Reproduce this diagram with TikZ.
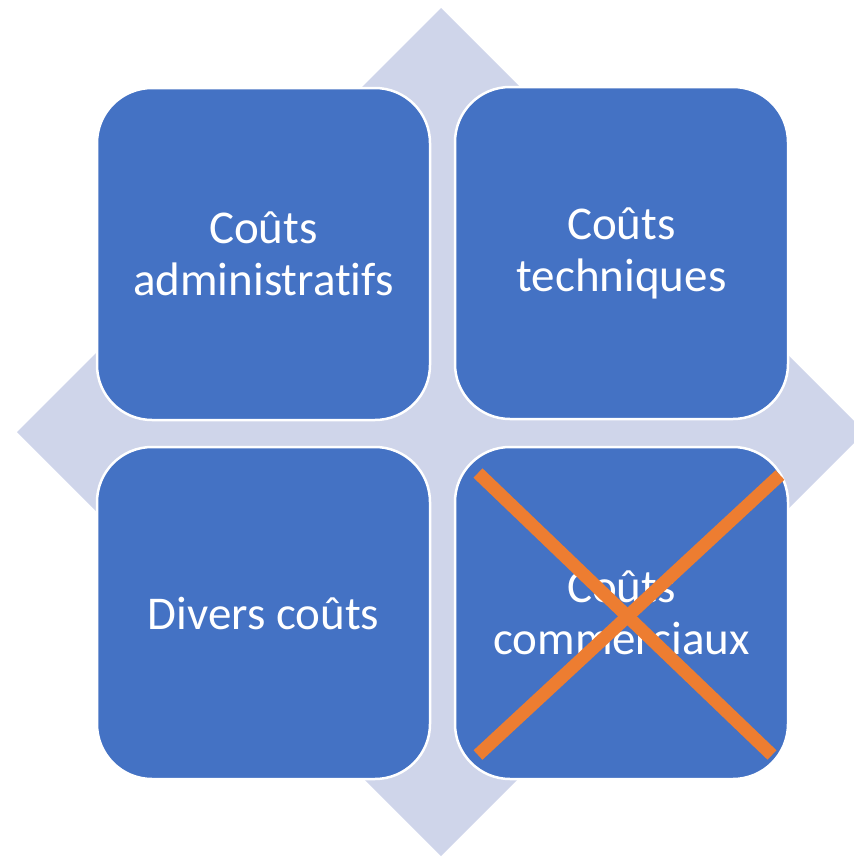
\documentclass[tikz,border=0pt]{standalone}
\usepackage{fontspec}
\setmainfont[Ligatures=NoCommon]{Carlito}
\definecolor{bgdiamond}{HTML}{CFD5EA}
\definecolor{boxblue}{HTML}{4472C4}
\definecolor{crossorange}{HTML}{ED7D31}
\tikzset{
  costbox/.style={rectangle, rounded corners=55pt, fill=boxblue, draw=white, line width=2.5pt,
    minimum width=333pt, minimum height=332pt, text=white, align=center,
    font=\fontsize{47}{52}\selectfont},
  crossline/.style={crossorange, line width=13pt}
}
\begin{document}
\begin{tikzpicture}[x=1pt,y=-1pt]
        \useasboundingbox (0,0) rectangle (854,857);
        \fill[bgdiamond] (441,8) -- (865,432) -- (441,856) -- (17,432) -- cycle;
        \node[costbox] (adm) at (263.5,254) {Coûts\\administratifs};
        \node[costbox] (tech) at (621.5,253) {Coûts\\techniques};
        \node[costbox] (div) at (263.5,613) {Divers coûts};
        \node[costbox] (com) at (621.5,613) {Coûts\\commerciaux};
        \coordinate (c1) at (478,473);
        \coordinate (c2) at (772,755);
        \coordinate (c3) at (780,475);
        \coordinate (c4) at (478,755);
        \draw[crossline] (c1) -- (c2);
        \draw[crossline] (c3) -- (c4);
      \end{tikzpicture}
\end{document}
